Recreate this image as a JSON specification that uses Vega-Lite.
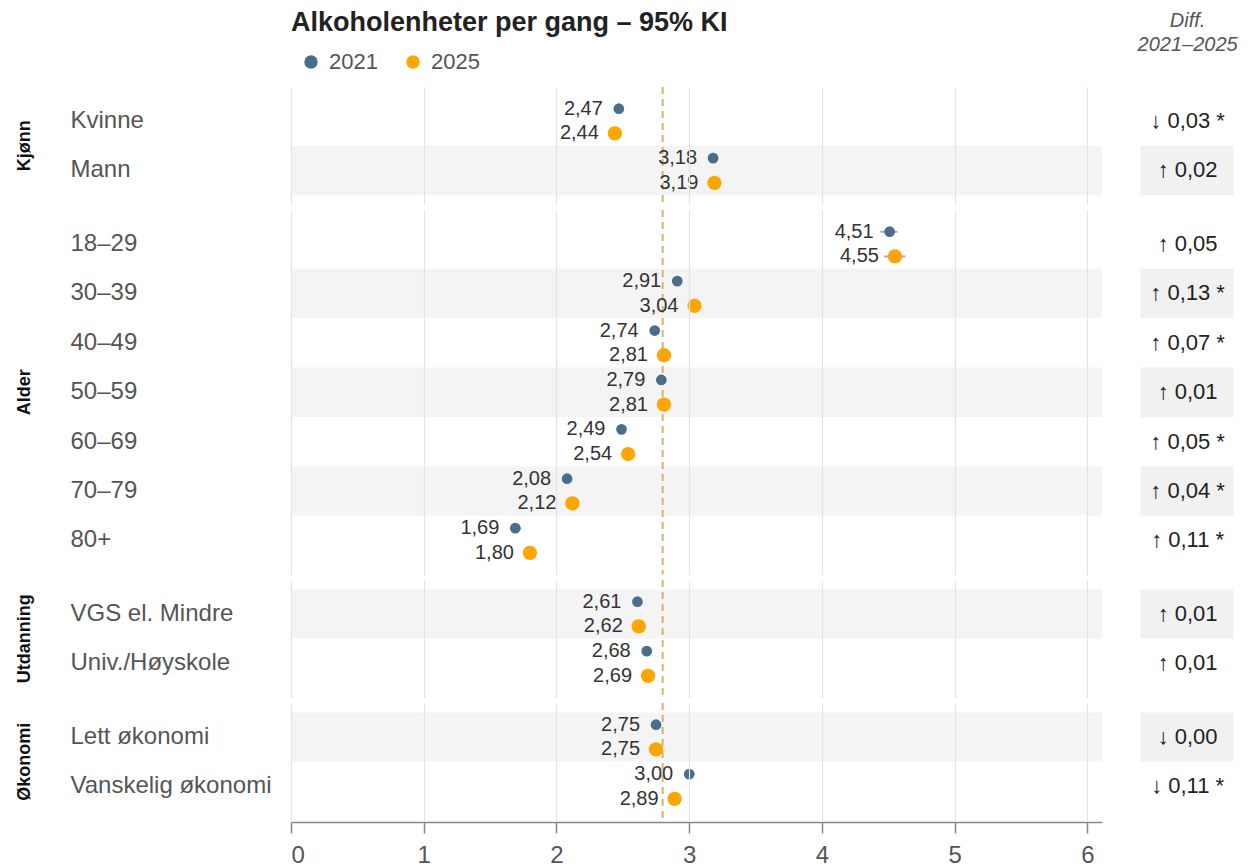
{
  "$schema": "https://vega.github.io/schema/vega-lite/v6.json",
  "padding": {"left": 16, "top": 9, "right": 10, "bottom": 5},
  "title": {"text": "Alkoholenheter per gang – 95% KI", "anchor": "start", "frame": "group", "fontSize": 27, "fontWeight": "bold", "color": "#222222", "offset": -26},
  "data": {"values": [
    {"group": "Kjønn", "category": "Kvinne", "year": "2021", "value": 2.47, "lo": 2.44, "hi": 2.50, "diff": "↓ 0,03 *"},
    {"group": "Kjønn", "category": "Kvinne", "year": "2025", "value": 2.44, "lo": 2.40, "hi": 2.48, "diff": "↓ 0,03 *"},
    {"group": "Kjønn", "category": "Mann", "year": "2021", "value": 3.18, "lo": 3.15, "hi": 3.21, "diff": "↑ 0,02"},
    {"group": "Kjønn", "category": "Mann", "year": "2025", "value": 3.19, "lo": 3.15, "hi": 3.23, "diff": "↑ 0,02"},
    {"group": "Alder", "category": "18–29", "year": "2021", "value": 4.51, "lo": 4.44, "hi": 4.57, "diff": "↑ 0,05"},
    {"group": "Alder", "category": "18–29", "year": "2025", "value": 4.55, "lo": 4.47, "hi": 4.63, "diff": "↑ 0,05"},
    {"group": "Alder", "category": "30–39", "year": "2021", "value": 2.91, "lo": 2.88, "hi": 2.94, "diff": "↑ 0,13 *"},
    {"group": "Alder", "category": "30–39", "year": "2025", "value": 3.04, "lo": 3.00, "hi": 3.08, "diff": "↑ 0,13 *"},
    {"group": "Alder", "category": "40–49", "year": "2021", "value": 2.74, "lo": 2.71, "hi": 2.77, "diff": "↑ 0,07 *"},
    {"group": "Alder", "category": "40–49", "year": "2025", "value": 2.81, "lo": 2.77, "hi": 2.85, "diff": "↑ 0,07 *"},
    {"group": "Alder", "category": "50–59", "year": "2021", "value": 2.79, "lo": 2.76, "hi": 2.82, "diff": "↑ 0,01"},
    {"group": "Alder", "category": "50–59", "year": "2025", "value": 2.81, "lo": 2.77, "hi": 2.85, "diff": "↑ 0,01"},
    {"group": "Alder", "category": "60–69", "year": "2021", "value": 2.49, "lo": 2.46, "hi": 2.52, "diff": "↑ 0,05 *"},
    {"group": "Alder", "category": "60–69", "year": "2025", "value": 2.54, "lo": 2.50, "hi": 2.58, "diff": "↑ 0,05 *"},
    {"group": "Alder", "category": "70–79", "year": "2021", "value": 2.08, "lo": 2.05, "hi": 2.11, "diff": "↑ 0,04 *"},
    {"group": "Alder", "category": "70–79", "year": "2025", "value": 2.12, "lo": 2.08, "hi": 2.16, "diff": "↑ 0,04 *"},
    {"group": "Alder", "category": "80+", "year": "2021", "value": 1.69, "lo": 1.65, "hi": 1.73, "diff": "↑ 0,11 *"},
    {"group": "Alder", "category": "80+", "year": "2025", "value": 1.80, "lo": 1.75, "hi": 1.85, "diff": "↑ 0,11 *"},
    {"group": "Utdanning", "category": "VGS el. Mindre", "year": "2021", "value": 2.61, "lo": 2.58, "hi": 2.64, "diff": "↑ 0,01"},
    {"group": "Utdanning", "category": "VGS el. Mindre", "year": "2025", "value": 2.62, "lo": 2.58, "hi": 2.66, "diff": "↑ 0,01"},
    {"group": "Utdanning", "category": "Univ./Høyskole", "year": "2021", "value": 2.68, "lo": 2.65, "hi": 2.71, "diff": "↑ 0,01"},
    {"group": "Utdanning", "category": "Univ./Høyskole", "year": "2025", "value": 2.69, "lo": 2.65, "hi": 2.73, "diff": "↑ 0,01"},
    {"group": "Økonomi", "category": "Lett økonomi", "year": "2021", "value": 2.75, "lo": 2.72, "hi": 2.78, "diff": "↓ 0,00"},
    {"group": "Økonomi", "category": "Lett økonomi", "year": "2025", "value": 2.75, "lo": 2.71, "hi": 2.79, "diff": "↓ 0,00"},
    {"group": "Økonomi", "category": "Vanskelig økonomi", "year": "2021", "value": 3.00, "lo": 2.96, "hi": 3.04, "diff": "↓ 0,11 *"},
    {"group": "Økonomi", "category": "Vanskelig økonomi", "year": "2025", "value": 2.89, "lo": 2.84, "hi": 2.94, "diff": "↓ 0,11 *"}
  ]},
  "facet": {"row": {"field": "group", "type": "nominal", "sort": ["Kjønn", "Alder", "Utdanning", "Økonomi"],
    "header": {"title": null, "labelAngle": -90, "labelFontSize": 18, "labelFontWeight": "bold", "labelColor": "#111111", "labelPadding": 27, "labelOrient": "left"}}},
  "spacing": 3,
  "resolve": {"scale": {"y": "independent"}},
  "spec": {
    "width": 811,
    "height": {"step": 49.4},
    "layer": [
      {
        "transform": [{"filter": {"field": "year", "equal": "2021"}}],
        "mark": {"type": "rect"},
        "encoding": {
          "y": {"field": "category", "type": "nominal", "sort": null,
            "scale": {"type": "band", "paddingInner": 0, "paddingOuter": 0.19},
            "axis": {"title": null, "domain": false, "ticks": false, "grid": false, "labelAlign": "left", "labelBaseline": "middle", "labelPadding": 221, "labelFontSize": 24, "labelColor": "#555555", "labelLimit": 300}},
          "color": {"condition": {"test": {"field": "category", "oneOf": ["Mann", "30–39", "50–59", "70–79", "VGS el. Mindre", "Lett økonomi"]}, "value": "#f4f4f4"}, "value": "#ffffff"}
        }
      },
      {
        "transform": [{"filter": {"and": [{"field": "year", "equal": "2021"}, {"field": "category", "oneOf": ["Kvinne", "18–29", "VGS el. Mindre", "Lett økonomi"]}]}}],
        "mark": {"type": "rule", "color": "#d6b46a", "strokeDash": [7, 5], "strokeWidth": 2},
        "encoding": {"x": {"datum": 2.8, "type": "quantitative", "scale": {"domain": [0, 6.11], "nice": false}}}
      },
      {
        "transform": [{"filter": {"field": "year", "equal": "2021"}}],
        "mark": {"type": "rule", "color": "#aaaaaa", "strokeWidth": 2},
        "encoding": {
          "x": {"field": "lo", "type": "quantitative", "scale": {"domain": [0, 6.11], "nice": false}},
          "x2": {"field": "hi"},
          "y": {"field": "category", "type": "nominal", "sort": null, "bandPosition": 0.25}
        }
      },
      {
        "transform": [{"filter": {"field": "year", "equal": "2025"}}],
        "mark": {"type": "rule", "color": "#aaaaaa", "strokeWidth": 2},
        "encoding": {
          "x": {"field": "lo", "type": "quantitative", "scale": {"domain": [0, 6.11], "nice": false}},
          "x2": {"field": "hi"},
          "y": {"field": "category", "type": "nominal", "sort": null, "bandPosition": 0.75}
        }
      },
      {
        "transform": [{"filter": {"field": "year", "equal": "2021"}}],
        "mark": {"type": "circle", "opacity": 1, "size": 115},
        "encoding": {
          "x": {"field": "value", "type": "quantitative", "scale": {"domain": [0, 6.11], "nice": false},
            "axis": {"title": null, "values": [0, 1, 2, 3, 4, 5, 6], "format": "d", "grid": true, "gridColor": "#e3e3e3", "gridWidth": 1.2, "domainColor": "#888888", "domainWidth": 1.5, "tickColor": "#888888", "tickWidth": 1.5, "tickSize": 11, "labelFontSize": 24, "labelColor": "#555555", "labelPadding": 10, "zindex": 1}},
          "y": {"field": "category", "type": "nominal", "sort": null, "bandPosition": 0.25},
          "color": {"field": "year", "type": "nominal", "scale": {"domain": ["2021", "2025"], "range": ["#4a6d8c", "#ffa500"]},
            "legend": {"title": null, "orient": "none", "legendX": 9, "legendY": -36, "direction": "horizontal", "padding": 0, "labelFontSize": 22, "labelColor": "#555555", "symbolType": "circle", "symbolSize": 180, "symbolStrokeWidth": 0, "columnPadding": 24, "labelOffset": 7}}
        }
      },
      {
        "transform": [{"filter": {"field": "year", "equal": "2025"}}],
        "mark": {"type": "circle", "opacity": 1, "size": 205},
        "encoding": {
          "x": {"field": "value", "type": "quantitative", "scale": {"domain": [0, 6.11], "nice": false}},
          "y": {"field": "category", "type": "nominal", "sort": null, "bandPosition": 0.75},
          "color": {"field": "year", "type": "nominal", "scale": {"domain": ["2021", "2025"], "range": ["#4a6d8c", "#ffa500"]}}
        }
      },
      {
        "transform": [{"filter": {"field": "year", "equal": "2021"}}],
        "mark": {"type": "text", "align": "right", "baseline": "middle", "dx": -16, "fontSize": 20, "color": "#333333"},
        "encoding": {
          "x": {"field": "value", "type": "quantitative", "scale": {"domain": [0, 6.11], "nice": false}},
          "y": {"field": "category", "type": "nominal", "sort": null, "bandPosition": 0.25},
          "text": {"field": "value", "type": "quantitative", "format": ".2f"}
        }
      },
      {
        "transform": [{"filter": {"field": "year", "equal": "2025"}}],
        "mark": {"type": "text", "align": "right", "baseline": "middle", "dx": -16, "fontSize": 20, "color": "#333333"},
        "encoding": {
          "x": {"field": "value", "type": "quantitative", "scale": {"domain": [0, 6.11], "nice": false}},
          "y": {"field": "category", "type": "nominal", "sort": null, "bandPosition": 0.75},
          "text": {"field": "value", "type": "quantitative", "format": ".2f"}
        }
      },
      {
        "transform": [{"filter": {"field": "year", "equal": "2021"}}],
        "mark": {"type": "rect"},
        "encoding": {
          "x": {"datum": 6.40, "type": "quantitative", "scale": {"domain": [0, 6.11], "nice": false}},
          "x2": {"datum": 7.10},
          "y": {"field": "category", "type": "nominal", "sort": null},
          "color": {"condition": {"test": {"field": "category", "oneOf": ["Mann", "30–39", "50–59", "70–79", "VGS el. Mindre", "Lett økonomi"]}, "value": "#f1f1f1"}, "value": "#ffffff"}
        }
      },
      {
        "transform": [{"filter": {"field": "year", "equal": "2021"}}],
        "mark": {"type": "text", "align": "center", "baseline": "middle", "fontSize": 22, "color": "#222222"},
        "encoding": {
          "x": {"datum": 6.755, "type": "quantitative", "scale": {"domain": [0, 6.11], "nice": false}},
          "y": {"field": "category", "type": "nominal", "sort": null},
          "text": {"field": "diff", "type": "nominal"}
        }
      },
      {
        "transform": [{"filter": {"and": [{"field": "year", "equal": "2021"}, {"field": "category", "equal": "Kvinne"}]}}],
        "mark": {"type": "text", "text": ["Diff.", "2021–2025"], "align": "center", "baseline": "middle", "lineHeight": 24, "dy": -100, "fontSize": 20, "fontStyle": "italic", "color": "#555555"},
        "encoding": {
          "x": {"datum": 6.755, "type": "quantitative", "scale": {"domain": [0, 6.11], "nice": false}},
          "y": {"field": "category", "type": "nominal", "sort": null}
        }
      }
    ]
  },
  "config": {
    "font": "Liberation Sans",
    "view": {"stroke": null},
    "locale": {"number": {"decimal": ",", "thousands": " ", "grouping": [3], "currency": ["", " kr"]}}
  }
}
